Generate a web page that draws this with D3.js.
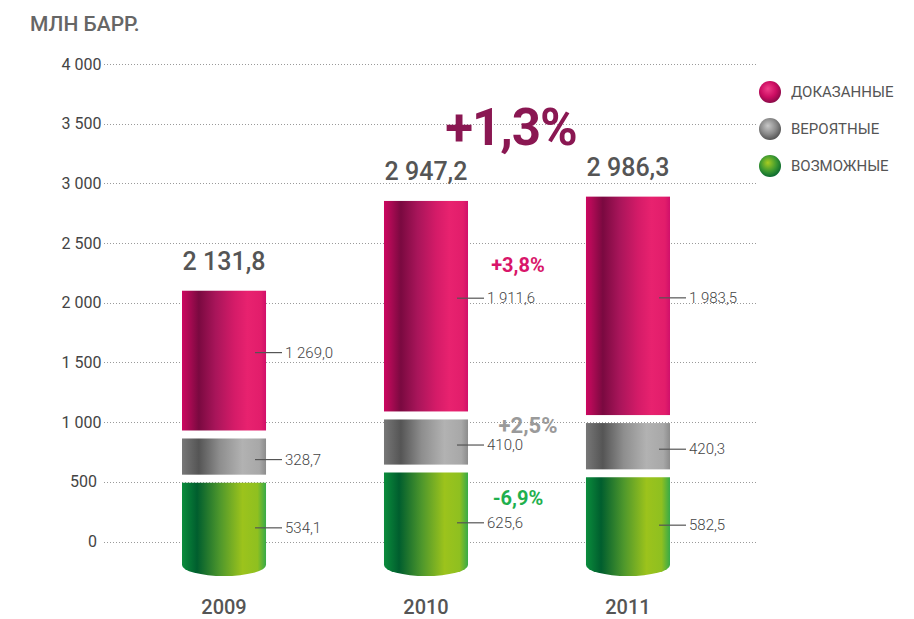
<!DOCTYPE html>
<html><head><meta charset="utf-8">
<script src="https://cdn.jsdelivr.net/npm/d3@7"></script>
<style>
html,body{margin:0;padding:0;background:#fff;}
svg{display:block;font-family:Roboto,"Noto Sans",sans-serif;}
</style></head>
<body><svg id="chart" width="914" height="619"></svg>
<script>
// ---- data ----
const categories = ["2009", "2010", "2011"];
const proved   = [1269.0, 1911.6, 1983.5];   // ДОКАЗАННЫЕ
const probable = [328.7, 410.0, 420.3];      // ВЕРОЯТНЫЕ
const possible = [534.1, 625.6, 582.5];      // ВОЗМОЖНЫЕ
const seriesNames = ["ДОКАЗАННЫЕ", "ВЕРОЯТНЫЕ", "ВОЗМОЖНЫЕ"];
const yTicks = [0, 500, 1000, 1500, 2000, 2500, 3000, 3500, 4000];
const seriesChanges = ["+3,8%", "+2,5%", "-6,9%"];
const totalChange = "+1,3%";
const unitLabel = "МЛН БАРР.";

// ---- setup ----
const svg = d3.select("#chart");
const loc = d3.formatLocale({decimal: ",", thousands: "\u00a0", grouping: [3], currency: ["", ""]});
const fmtTick = loc.format(",.0f");
const fmtVal = loc.format(",.1f");

// axis scale
const y = d3.scaleLinear().domain([0, 4000]).range([541.5, 64]);
// scale used for the stacked cylinders (drawn slightly compressed, as in the original)
const yBar = d3.scaleLinear().domain([0, 4000]).range([541.5, 101]);
const x = d3.scaleBand().domain(categories).range([182, 670]).paddingInner(0.584).paddingOuter(0);
const FOOT = 565;      // visual foot of the cylinders
const GAP = 8;

const defs = svg.append("defs");
function linGrad(id, stops) {
  const g = defs.append("linearGradient").attr("id", id).attr("x1", 0).attr("x2", 1).attr("y1", 0).attr("y2", 0);
  stops.forEach(s => g.append("stop").attr("offset", s[0]).attr("stop-color", s[1]));
}
linGrad("gPink", [[0, "#cc0660"], [0.07, "#b00a55"], [0.2, "#7a0940"], [0.4, "#a8155a"], [0.62, "#d41b68"], [0.78, "#e8226f"], [0.94, "#e21d6b"], [1, "#d0106a"]]);
linGrad("gGray", [[0, "#777777"], [0.2, "#555555"], [0.45, "#8e8e8e"], [0.72, "#b2b2b2"], [0.92, "#a8a8a8"], [1, "#8c8c8c"]]);
linGrad("gGreen", [[0, "#0b8c3c"], [0.18, "#005e2e"], [0.45, "#4e972c"], [0.72, "#9cc31c"], [0.9, "#8fc020"], [1, "#38aa48"]]);
function radGrad(id, c0, c1, c2) {
  const g = defs.append("radialGradient").attr("id", id).attr("cx", "45%").attr("cy", "40%").attr("r", "60%").attr("fx", "40%").attr("fy", "35%");
  g.append("stop").attr("offset", 0).attr("stop-color", c0);
  g.append("stop").attr("offset", 0.6).attr("stop-color", c1);
  g.append("stop").attr("offset", 1).attr("stop-color", c2);
}
radGrad("rPink", "#f0408a", "#cc0d62", "#8a0a48");
radGrad("rGray", "#c8c8c8", "#8a8a8a", "#555555");
radGrad("rGreen", "#a8cc22", "#3e9a30", "#0b6a30");

// ---- title ----
svg.append("text").attr("x", 30).attr("y", 31).attr("font-size", 21).attr("font-weight", 500)
  .attr("fill", "#666").text(unitLabel);

// ---- grid + y labels ----
const grid = svg.append("g");
grid.selectAll("line").data(yTicks).join("line")
  .attr("x1", 104).attr("x2", 758)
  .attr("y1", d => Math.round(y(d)) + 0.5).attr("y2", d => Math.round(y(d)) + 0.5)
  .attr("stroke", "#9a9a9a").attr("stroke-width", 1).attr("stroke-dasharray", "1,2");
grid.selectAll("text").data(yTicks).join("text")
  .attr("x", d => d < 1000 ? 97 : 101.5).attr("y", d => y(d) + 5.5)
  .attr("text-anchor", "end").attr("font-size", 16).attr("fill", "#444")
  .text(d => fmtTick(d));

// ---- stacked cylinders ----
const stacks = categories.map((c, i) => {
  const c1 = possible[i], c2 = c1 + probable[i], c3 = c2 + proved[i];
  return {
    c, i, total: c3,
    gTop: yBar(c1),
    pBot: yBar(c1) - GAP, pTop: yBar(c2) - GAP,
    dBot: yBar(c2) - 2 * GAP, dTop: yBar(c3) - 2 * GAP
  };
});

const bars = svg.append("g");
const bw = x.bandwidth();
const ry = 11;
bars.selectAll("path.green").data(stacks).join("path").attr("class", "green")
  .attr("d", d => {
    const x0 = x(d.c), x1 = x0 + bw;
    return `M${x0},${d.gTop}L${x1},${d.gTop}L${x1},${FOOT}A${bw / 2},${ry} 0 0 1 ${x0},${FOOT}Z`;
  })
  .attr("fill", "url(#gGreen)");
bars.selectAll("rect.gray").data(stacks).join("rect").attr("class", "gray")
  .attr("x", d => x(d.c)).attr("width", bw)
  .attr("y", d => d.pTop).attr("height", d => d.pBot - d.pTop)
  .attr("fill", "url(#gGray)");
bars.selectAll("rect.pink").data(stacks).join("rect").attr("class", "pink")
  .attr("x", d => x(d.c)).attr("width", bw)
  .attr("y", d => d.dTop).attr("height", d => d.dBot - d.dTop)
  .attr("fill", "url(#gPink)");

// ---- value labels with leader lines ----
const labels = [];
stacks.forEach(d => {
  labels.push({c: d.c, yy: (d.dTop + d.dBot) / 2 - 8, v: proved[d.i]});
  labels.push({c: d.c, yy: (d.pTop + d.pBot) / 2 + 3, v: probable[d.i]});
  labels.push({c: d.c, yy: (d.gTop + FOOT) / 2 + 4, v: possible[d.i]});
});
const lg = svg.append("g");
lg.selectAll("line").data(labels).join("line")
  .attr("x1", d => x(d.c) + bw - 11).attr("x2", d => x(d.c) + bw + 16)
  .attr("y1", d => d.yy).attr("y2", d => d.yy)
  .attr("stroke", "#555").attr("stroke-width", 1.2);
lg.selectAll("text").data(labels).join("text")
  .attr("x", d => x(d.c) + bw + 19).attr("y", d => d.yy + 5)
  .attr("font-size", 15).attr("font-weight", 300).attr("fill", "#444")
  .text(d => fmtVal(d.v));

// ---- totals ----
svg.append("g").selectAll("text").data(stacks).join("text")
  .attr("x", d => x(d.c) + bw / 2).attr("y", d => d.dTop - 21)
  .attr("text-anchor", "middle").attr("font-size", 25).attr("font-weight", 500).attr("fill", "#555")
  .text(d => fmtVal(d.total));

// ---- years ----
svg.append("g").selectAll("text").data(categories).join("text")
  .attr("x", d => x(d) + bw / 2).attr("y", 614)
  .attr("text-anchor", "middle").attr("font-size", 20).attr("font-weight", 500).attr("fill", "#555")
  .text(d => d);

// ---- change annotations ----
const midX = (x(categories[1]) + bw + x(categories[2])) / 2;
svg.append("text").attr("x", midX - 16).attr("y", 145).attr("text-anchor", "middle")
  .attr("font-size", 51).attr("font-weight", 700).attr("fill", "#8a1752").attr("letter-spacing", -1)
  .text(totalChange);
const chgColors = ["#d8166a", "#9a9a9a", "#1fb04e"];
const chgY = [272, 433, 505];
svg.append("g").selectAll("text").data(seriesChanges).join("text")
  .attr("x", (d, i) => midX + (i === 1 ? 1 : -9)).attr("y", (d, i) => chgY[i])
  .attr("text-anchor", "middle").attr("font-size", (d, i) => i === 1 ? 22 : 20).attr("font-weight", 700)
  .attr("fill", (d, i) => chgColors[i])
  .text(d => d);

// ---- legend ----
const legend = svg.append("g");
const rg = ["url(#rPink)", "url(#rGray)", "url(#rGreen)"];
legend.selectAll("circle").data(seriesNames).join("circle")
  .attr("cx", 770).attr("cy", (d, i) => 92 + i * 37).attr("r", 11)
  .attr("fill", (d, i) => rg[i]);
legend.selectAll("text").data(seriesNames).join("text")
  .attr("x", 791).attr("y", (d, i) => 97 + i * 37)
  .attr("font-size", 15).attr("fill", "#555")
  .text(d => d);
</script></body></html>
